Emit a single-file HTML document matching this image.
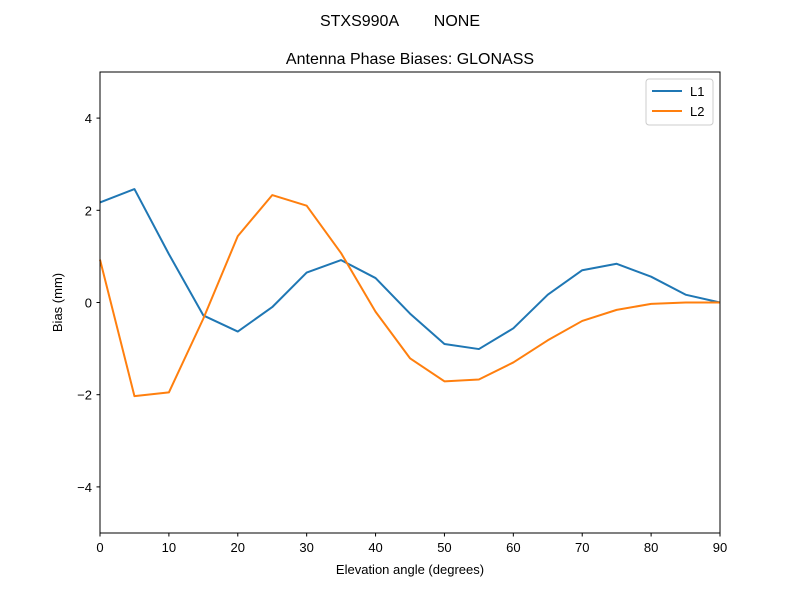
<!DOCTYPE html>
<html><head><meta charset="utf-8"><style>
body{margin:0;background:#fff;}
svg text{font-family:"Liberation Sans","DejaVu Sans",sans-serif;fill:#000;}
</style></head><body>
<svg id="chart" width="800" height="600" xmlns="http://www.w3.org/2000/svg">
<rect width="800" height="600" fill="#fff"/>
<text x="400" y="26" font-size="16" text-anchor="middle" style="white-space:pre" xml:space="preserve">STXS990A        NONE</text>
<text x="410" y="64" font-size="16" text-anchor="middle">Antenna Phase Biases: GLONASS</text>
<g id="xticks"></g><g id="yticks"></g>
<g id="lines"></g>
<rect x="100" y="72" width="620" height="461" fill="none" stroke="#000" stroke-width="1"/>
<text x="410" y="574" font-size="13" text-anchor="middle">Elevation angle (degrees)</text>
<text transform="translate(62,302.5) rotate(-90)" font-size="13" text-anchor="middle">Bias (mm)</text>
<g>
<rect x="646" y="79" width="67" height="46" rx="3" fill="#fff" stroke="#ccc"/>
<line x1="652" y1="91" x2="682" y2="91" stroke="#1f77b4" stroke-width="2"/>
<text x="690" y="96" font-size="13">L1</text>
<line x1="652" y1="111" x2="682" y2="111" stroke="#ff7f0e" stroke-width="2"/>
<text x="690" y="116" font-size="13">L2</text>
</g>
</svg>
<script>
const elev=[0,5,10,15,20,25,30,35,40,45,50,55,60,65,70,75,80,85,90];
const l1=[2.17,2.46,1.05,-0.28,-0.63,-0.1,0.65,0.92,0.53,-0.24,-0.9,-1.01,-0.56,0.17,0.7,0.84,0.56,0.17,0];
const l2=[0.93,-2.03,-1.95,-0.35,1.44,2.33,2.1,1.07,-0.2,-1.21,-1.71,-1.67,-1.3,-0.82,-0.4,-0.16,-0.03,0,0];
const xTickVals=[0,10,20,30,40,50,60,70,80,90];
const yTickVals=[-4,-2,0,2,4];
const yTickLabels=["\u22124","\u22122","0","2","4"];
const NS="http://www.w3.org/2000/svg";
function xs(v){return 100+v/90*620;}
function ys(v){return 302.5-v*46.1;}
function mk(t,a,p){const e=document.createElementNS(NS,t);for(const k in a)e.setAttribute(k,a[k]);p.appendChild(e);return e;}
const xt=document.getElementById('xticks'),yt=document.getElementById('yticks'),lg=document.getElementById('lines');
xTickVals.forEach(v=>{
 const l=mk('line',{x1:xs(v),x2:xs(v),y1:533,y2:536.5,stroke:'#000'},xt);
 
 
 const t=mk('text',{x:xs(v),y:552,'font-size':13,'text-anchor':'middle'},xt);t.textContent=v;
 
 
});
yTickVals.forEach((v,i)=>{
 const l=mk('line',{x1:96.5,x2:100,y1:ys(v),y2:ys(v),stroke:'#000'},yt);
 
 
 const t=mk('text',{x:92,y:ys(v)+5,'font-size':13,'text-anchor':'end'},yt);t.textContent=yTickLabels[i];
 
 
});
[[l1,'#1f77b4','line-l1'],[l2,'#ff7f0e','line-l2']].forEach(([d,c,n])=>{
 const p=mk('polyline',{points:d.map((v,i)=>xs(elev[i])+','+ys(v)).join(' '),fill:'none',stroke:c,'stroke-width':2,'stroke-linejoin':'round'},lg);
 
 
});
</script>
</body></html>
